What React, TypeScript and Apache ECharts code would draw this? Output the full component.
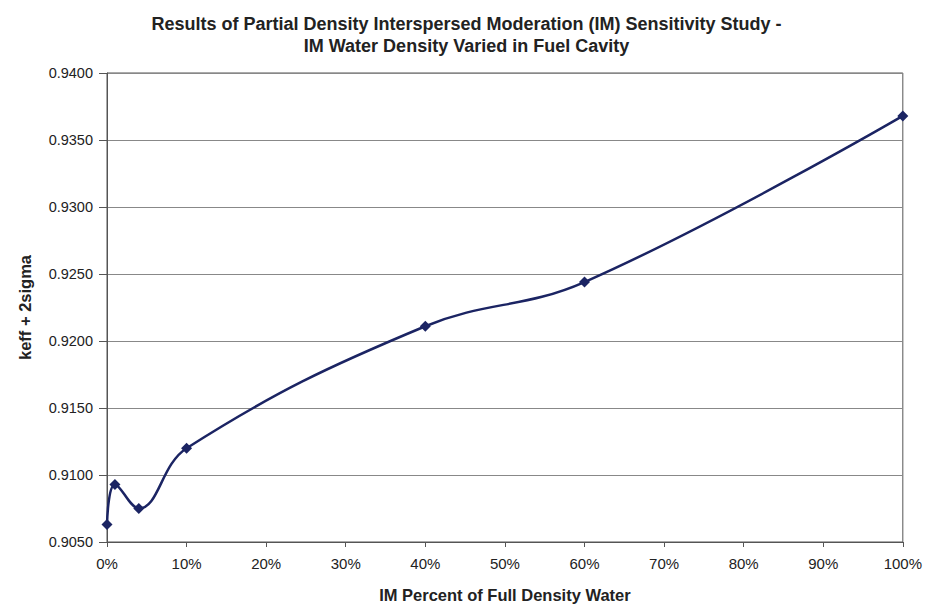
import React, { useEffect, useRef } from "react";
import * as echarts from "echarts";

const xPercent = [0, 1, 4, 10, 40, 60, 100];
const keffValues = [0.9063, 0.9093, 0.9075, 0.912, 0.9211, 0.9244, 0.9368];
const titleLines = [
  "Results of Partial Density Interspersed Moderation (IM) Sensitivity Study -",
  "IM Water Density Varied in Fuel Cavity",
];
const xAxisName = "IM Percent of Full Density Water";
const yAxisName = "keff + 2sigma";

export default function App() {
  const ref = useRef<HTMLDivElement>(null);
  useEffect(() => {
    if (!ref.current) return;
    const chart = echarts.init(ref.current, undefined, { renderer: "svg" });
    const font = "'Liberation Sans', Arial, sans-serif";
    chart.setOption({
      animation: false,
      backgroundColor: "#ffffff",
      title: {
        text: titleLines.join("\n"),
        left: "center",
        top: 0,
        textStyle: {
          fontFamily: font,
          fontSize: 18,
          fontWeight: "bold",
          color: "#222",
          lineHeight: 22,
        },
      },
      grid: { left: 90, right: 16, top: 65, bottom: 54, show: true, borderColor: "#555", borderWidth: 1 },
      xAxis: {
        type: "value",
        min: 0,
        max: 100,
        interval: 10,
        name: xAxisName,
        nameLocation: "middle",
        nameGap: 44,
        nameTextStyle: { fontFamily: font, fontSize: 16.5, fontWeight: "bold", color: "#222" },
        axisLine: { show: true, lineStyle: { color: "#555" } },
        axisTick: { show: true, length: 5, lineStyle: { color: "#555" } },
        axisLabel: { formatter: (v: number) => `${v}%`, fontFamily: font, fontSize: 15, color: "#222", margin: 14 },
        splitLine: { show: false },
      },
      yAxis: {
        type: "value",
        min: 0.905,
        max: 0.94,
        interval: 0.005,
        name: yAxisName,
        nameLocation: "middle",
        nameGap: 74,
        nameRotate: 90,
        nameTextStyle: { fontFamily: font, fontSize: 16.5, fontWeight: "bold", color: "#222" },
        axisLine: { show: true, lineStyle: { color: "#555" } },
        axisTick: { show: true, length: 8, lineStyle: { color: "#555" } },
        axisLabel: { formatter: (v: number) => v.toFixed(4), fontFamily: font, fontSize: 14.5, color: "#222", margin: 14 },
        splitLine: { show: true, lineStyle: { color: "#888", width: 1 } },
      },
      series: [
        {
          type: "line",
          data: xPercent.map((x, i) => [x, keffValues[i]]),
          smooth: 0.4,
          symbol: "diamond",
          symbolSize: 11,
          lineStyle: { color: "#1b2463", width: 2.5 },
          itemStyle: { color: "#1b2463" },
        },
      ],
    });
    return () => chart.dispose();
  }, []);
  return <div ref={ref} style={{ width: 917, height: 600 }} />;
}
